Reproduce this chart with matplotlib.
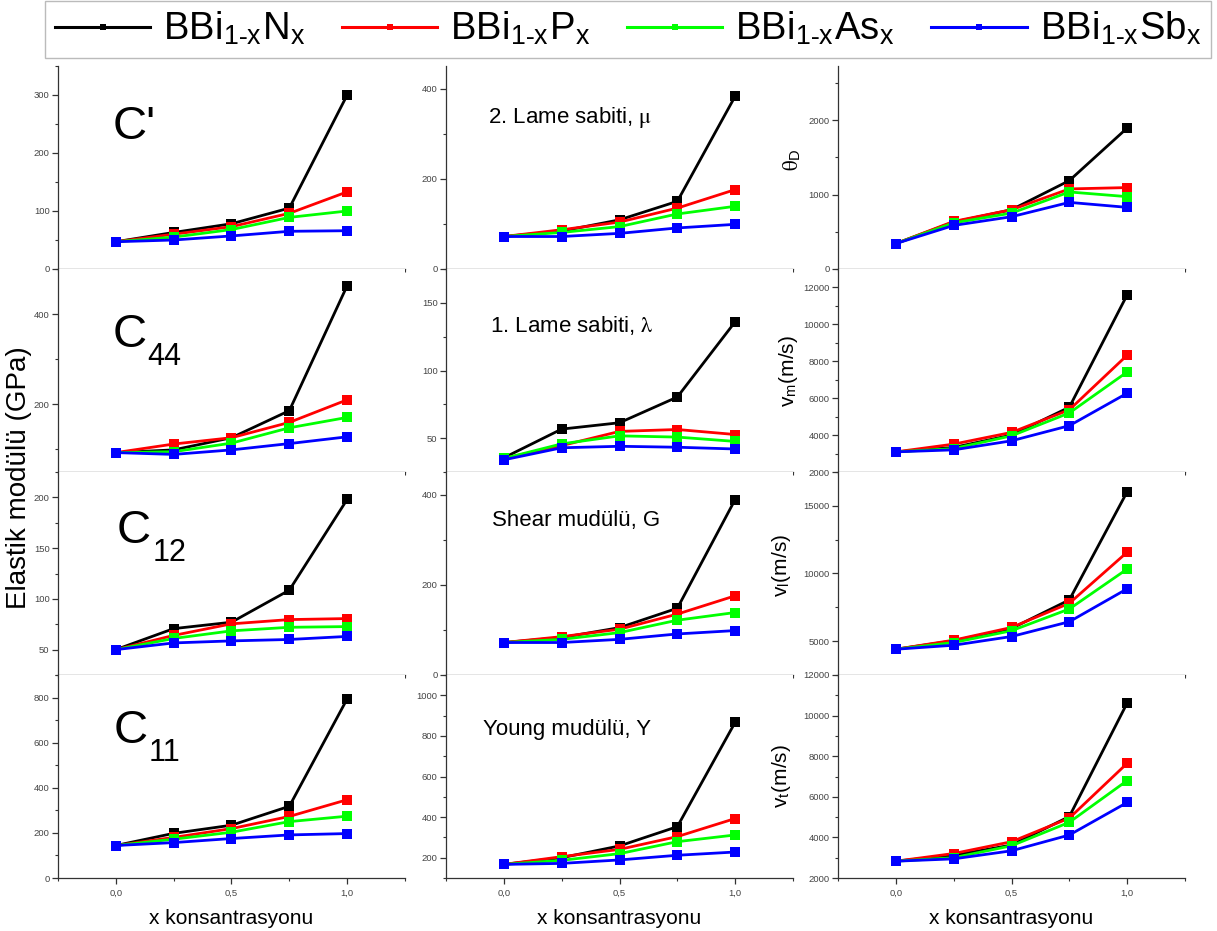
import matplotlib
matplotlib.use('Agg')
import matplotlib.pyplot as plt
from matplotlib.lines import Line2D
from matplotlib.ticker import MultipleLocator, FixedLocator

plt.rcParams['font.family'] = ['Liberation Sans', 'DejaVu Sans']
plt.rcParams['mathtext.fontset'] = 'stix'

# x concentration values
x_conc = [0.0, 0.25, 0.5, 0.75, 1.0]

series_names = [r'BBi$_{\mathregular{1\text{-}x}}$N$_{\mathregular{x}}$',
                r'BBi$_{\mathregular{1\text{-}x}}$P$_{\mathregular{x}}$',
                r'BBi$_{\mathregular{1\text{-}x}}$As$_{\mathregular{x}}$',
                r'BBi$_{\mathregular{1\text{-}x}}$Sb$_{\mathregular{x}}$']
series_colors = ['#000000', '#ff0000', '#00ff00', '#0000ff']

# each panel: rows are N, P, As, Sb
c_prime = [[47, 63, 78, 105, 300],
           [47, 60, 73, 96, 133],
           [47, 55, 68, 89, 100],
           [47, 50, 57, 65, 66]]
c44 = [[93, 99, 126, 186, 463],
       [93, 112, 126, 160, 210],
       [93, 95, 114, 148, 171],
       [93, 89, 99, 113, 128]]
c12 = [[50, 70.7, 77, 108.6, 198],
       [50, 64, 75.4, 79.6, 80.6],
       [50, 61, 68.5, 72, 72.7],
       [50, 56.6, 58.6, 60, 63]]
c11 = [[144, 198, 234, 318, 794],
       [144, 180, 219, 273, 347],
       [144, 172, 203, 250, 274],
       [144, 157, 175, 191, 197]]
lame_mu = [[72, 84, 109, 150, 383],
           [72, 87, 104, 135, 176],
           [72, 81, 94, 122, 139],
           [72, 72, 79, 91, 99]]
lame_lambda = [[35.5, 56.7, 61.4, 80.4, 136],
               [35, 44.5, 55, 56.4, 52.7],
               [35, 45.8, 51.7, 50.8, 47.6],
               [34, 42.9, 44, 43.3, 42]]
shear_g = [[72, 83, 105, 148, 389],
           [72, 85, 101.5, 135, 175.6],
           [72, 79, 94, 121.5, 138.5],
           [72, 72, 79, 91, 98.5]]
young_y = [[167, 200, 258, 353, 867],
           [167, 205, 241, 304, 393],
           [167, 187, 220, 279, 312],
           [167, 172, 189, 212, 228]]
theta_d = [[342, 631, 797, 1189, 1896],
           [342, 640, 797, 1077, 1095],
           [342, 620, 752, 1036, 973],
           [342, 586, 703, 896, 829]]
v_m = [[3091, 3330, 4000, 5510, 11600],
       [3091, 3510, 4145, 5370, 8330],
       [3091, 3270, 3960, 5200, 7420],
       [3091, 3200, 3690, 4510, 6270]]
v_l = [[4404, 5030, 5940, 8050, 16040],
       [4404, 5074, 6013, 7800, 11575],
       [4404, 4900, 5770, 7380, 10330],
       [4404, 4700, 5343, 6437, 8870]]
v_t = [[2828, 3120, 3620, 5027, 10620],
       [2828, 3206, 3787, 4950, 7650],
       [2828, 3000, 3588, 4744, 6800],
       [2828, 2943, 3340, 4118, 5720]]

x_tick_vals = [0.0, 0.5, 1.0]
x_tick_labels = ['0,0', '0,5', '1,0']

# (data, ylim, major step, minor step) per column, rows top->bottom
col1 = [(c_prime, (0, 350), 100, 50),
        (c44, (50, 500), 200, 100),
        (c12, (25, 225), 50, 25),
        (c11, (0, 900), 200, 100)]
col2 = [(lame_mu, (0, 450), 200, 100),
        (lame_lambda, (25, 175), 50, 25),
        (shear_g, (0, 450), 200, 100),
        (young_y, (100, 1100), 200, 100)]
col3 = [(theta_d, (0, 2730), 1000, 500),
        (v_m, (2000, 13000), 2000, 1000),
        (v_l, (2500, 17500), 5000, 2500),
        (v_t, (2000, 12000), 2000, 1000)]

W, H = 1217, 931
fig = plt.figure(figsize=(W / 100, H / 100), dpi=100)

col_left = [58, 446, 838]
col_w = 347
row_bottom = [269, 472, 675, 878]
row_h = 203


def make_ax(ci, ri):
    l = col_left[ci] / W
    b = 1 - row_bottom[ri] / H
    return fig.add_axes([l, b, col_w / W, row_h / H])


def style_ax(ax, ylim, major, minor, show_xlabels):
    for s in ['top', 'right']:
        ax.spines[s].set_visible(False)
    for s in ['left', 'bottom']:
        ax.spines[s].set_linewidth(0.9)
        ax.spines[s].set_color('#333333')
    ax.set_xlim(-0.25, 1.25)
    ax.set_ylim(*ylim)
    ax.xaxis.set_major_locator(FixedLocator(x_tick_vals))
    ax.xaxis.set_minor_locator(MultipleLocator(0.25))
    ax.yaxis.set_major_locator(MultipleLocator(major))
    ax.yaxis.set_minor_locator(MultipleLocator(minor))
    ax.tick_params(which='major', direction='out', length=4, width=0.9,
                   color='#333333', labelsize=6.8, labelcolor='#444444', pad=2)
    ax.tick_params(which='minor', direction='out', length=2.5, width=0.8,
                   color='#333333')
    ax.tick_params(axis='x', pad=4)
    if show_xlabels:
        ax.set_xticklabels(x_tick_labels)
        ax.set_xlabel('x konsantrasyonu', fontsize=15, labelpad=8)
    else:
        ax.set_xticklabels([])


def draw(ax, data):
    for vals, c in zip(data, series_colors):
        ax.plot(x_conc, vals, color=c, lw=2, marker='s', ms=7, mec=c, mew=0)


axes = []
for ci, col in enumerate([col1, col2, col3]):
    for ri, (data, ylim, major, minor) in enumerate(col):
        ax = make_ax(ci, ri)
        draw(ax, data)
        style_ax(ax, ylim, major, minor, ri == 3)
        axes.append(ax)

# column 1 labels: big C with subscripts
c_texts = [("C'", None, 0.156, 0.64),
           ('C', '44', 0.156, 0.616),
           ('C', '12', 0.170, 0.65),
           ('C', '11', 0.159, 0.665)]
for ri, (main, sub, tx, ty) in enumerate(c_texts):
    ax = axes[ri]
    ax.text(tx, ty, main, transform=ax.transAxes, fontsize=34,
            ha='left', va='baseline')
    if sub:
        ax.annotate(sub, xy=(tx, ty), xycoords='axes fraction',
                    xytext=(25.5, -13), textcoords='offset points',
                    fontsize=22, ha='left', va='baseline')

# column 2 labels
col2_texts = [(r'2. Lame sabiti, $\mathrm{\mu}$', 0.121, 0.72),
              (r'1. Lame sabiti, $\mathrm{\lambda}$', 0.127, 0.69),
              ('Shear mudülü, G', 0.132, 0.734),
              ('Young mudülü, Y', 0.106, 0.704)]
for ri, (t, tx, ty) in enumerate(col2_texts):
    ax = axes[4 + ri]
    ax.text(tx, ty, t, transform=ax.transAxes, fontsize=16,
            ha='left', va='baseline')

# column 3 y labels
col3_labels = [(r'$\mathrm{\theta}_{\mathregular{D}}$', -0.10, 0.54),
               (r'v$_{\mathregular{m}}$(m/s)', -0.11, 0.5),
               (r'v$_{\mathregular{l}}$(m/s)', -0.13, 0.54),
               (r'v$_{\mathregular{t}}$(m/s)', -0.13, 0.5)]
for ri, (t, lx, ly) in enumerate(col3_labels):
    ax = axes[8 + ri]
    ax.set_ylabel(t, fontsize=15)
    ax.yaxis.set_label_coords(lx, ly)

fig.text(19 / W, 1 - 478 / H, 'Elastik modülü (GPa)', rotation=90,
         fontsize=20, ha='center', va='center')

# legend across the top
handles = [Line2D([], [], color=c, lw=2.2, marker='s', ms=5, mew=0)
           for c in series_colors]
leg = fig.legend(handles, series_names, ncol=4, loc='upper left',
                 bbox_to_anchor=(45 / W, 1 - 1 / H), fontsize=27.5,
                 frameon=True, fancybox=False, borderpad=0.26,
                 handlelength=2.5, handletextpad=0.34, columnspacing=0.95,
                 borderaxespad=0)
leg.get_frame().set_edgecolor('#aaaaaa')
leg.get_frame().set_linewidth(1)

fig.savefig('out.png', dpi=100)
